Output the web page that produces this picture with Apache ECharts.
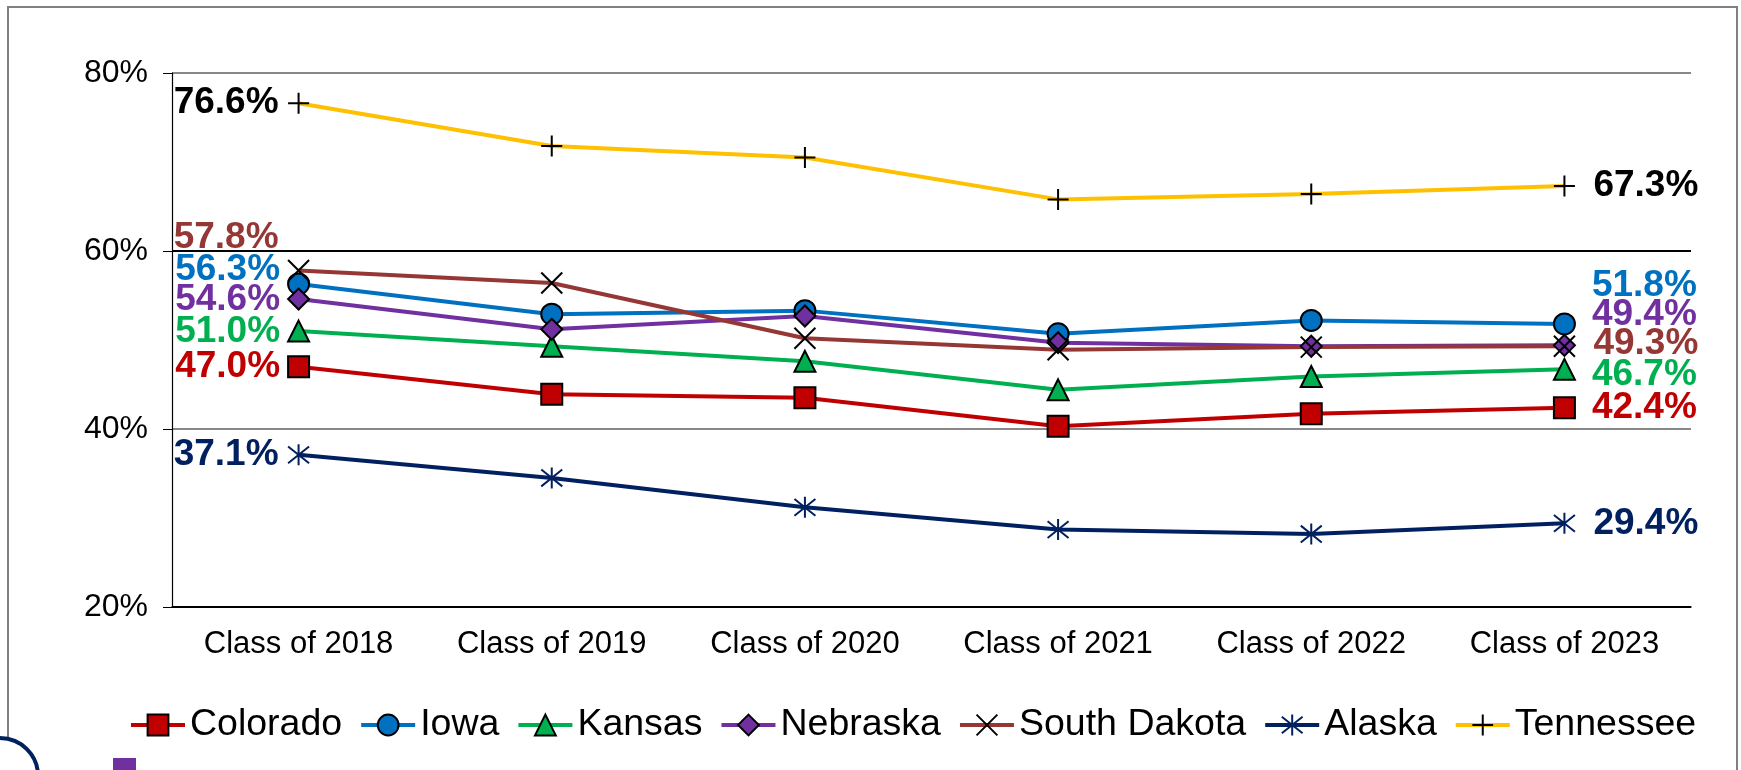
<!DOCTYPE html>
<html>
<head>
<meta charset="utf-8">
<script src="https://cdn.jsdelivr.net/npm/echarts@6/dist/echarts.min.js"></script>
<style>
  html, body { margin: 0; padding: 0; background: #fff; }
  #chart { width: 1741px; height: 770px; }
</style>
</head>
<body>
<div id="chart"></div>
<script>
var categories = ['Class of 2018', 'Class of 2019', 'Class of 2020', 'Class of 2021', 'Class of 2022', 'Class of 2023'];
var colorado = [47.0, 43.9, 43.5, 40.3, 41.7, 42.4];
var iowa = [56.3, 52.9, 53.3, 50.7, 52.2, 51.8];
var kansas = [51.0, 49.3, 47.6, 44.4, 45.9, 46.7];
var nebraska = [54.6, 51.2, 52.7, 49.7, 49.3, 49.4];
var southDakota = [57.8, 56.4, 50.2, 48.9, 49.2, 49.3];
var alaska = [37.1, 34.5, 31.2, 28.7, 28.2, 29.4];
var tennessee = [76.6, 71.8, 70.5, 65.8, 66.4, 67.3];

var font = 'Liberation Sans, Arial, sans-serif';
var xPath = 'path://M0,0 L10,10 M10,0 L0,10';
var plusPath = 'path://M5,0 L5,10 M0,5 L10,5';
var starPath = 'path://M5,0 L5,10 M0.8,1 L9.2,9 M0.8,9 L9.2,1';

// first / last point labels, nudged up or down so they don't collide
function withLabels(values, labelColor, firstOffset, lastOffset) {
    var last = values.length - 1;
    return values.map(function (v, i) {
        if (i === 0 || i === last) {
            return {
                value: v,
                label: {
                    show: true,
                    position: i === 0 ? 'left' : 'right',
                    distance: i === 0 ? 7 : 16,
                    offset: [0, i === 0 ? firstOffset : lastOffset],
                    formatter: function (p) { return p.value.toFixed(1) + '%'; },
                    color: labelColor,
                    fontFamily: font,
                    fontWeight: 'bold',
                    fontSize: 37
                }
            };
        }
        return v;
    });
}

function makeSeries(name, values, color, symbol, fill, border, labelColor, firstOffset, lastOffset) {
    return {
        name: name,
        type: 'line',
        data: withLabels(values, labelColor, firstOffset, lastOffset),
        symbol: symbol,
        symbolSize: 21,
        showAllSymbol: true,
        lineStyle: { color: color, width: 4 },
        itemStyle: { color: fill, borderColor: border, borderWidth: 2 },
        emphasis: { disabled: true },
        animation: false
    };
}

var chart = echarts.init(document.getElementById('chart'));

var option = {
    backgroundColor: '#fff',
    textStyle: { fontFamily: font },
    grid: { left: 172, right: 50, top: 73, bottom: 163 },
    legend: {
        top: 701,
        left: 124,
        itemWidth: 54,
        itemHeight: 26,
        itemGap: 17,
        lineStyle: { width: 4 },
        textStyle: { fontSize: 37.5, color: '#000', fontFamily: font },
        data: ['Colorado', 'Iowa', 'Kansas', 'Nebraska', 'South Dakota', 'Alaska', 'Tennessee']
    },
    xAxis: {
        type: 'category',
        data: categories,
        boundaryGap: true,
        axisLine: { lineStyle: { color: '#000', width: 1.5 } },
        axisTick: { length: 9, lineStyle: { color: '#000' } },
        axisLabel: { fontSize: 31, color: '#000', margin: 22, fontFamily: font }
    },
    yAxis: {
        type: 'value',
        min: 20,
        max: 80,
        interval: 20,
        axisLine: { show: true, lineStyle: { color: '#000', width: 1.2 } },
        axisTick: { show: true, length: 9, lineStyle: { color: '#000' } },
        axisLabel: { fontSize: 32, color: '#000', margin: 24, formatter: '{value}%', fontFamily: font },
        splitLine: { lineStyle: { color: ['#000', '#888', '#000', '#888'], width: 2 } }
    },
    series: [
        makeSeries('Colorado', colorado, '#C00000', 'rect', '#C00000', '#000', '#C00000', 0, 0),
        makeSeries('Iowa', iowa, '#0070C0', 'circle', '#0070C0', '#000', '#0070C0', -14, -38),
        makeSeries('Kansas', kansas, '#00B050', 'triangle', '#00B050', '#000', '#00B050', 1, 5),
        makeSeries('Nebraska', nebraska, '#7030A0', 'diamond', '#7030A0', '#000', '#7030A0', 1, -31),
        makeSeries('South Dakota', southDakota, '#953735', xPath, 'none', '#000', '#953735', -33, -2),
        makeSeries('Alaska', alaska, '#002060', starPath, 'none', '#002060', '#002060', 0, 0),
        makeSeries('Tennessee', tennessee, '#FFC000', plusPath, 'none', '#000', '#000', 0, 0)
    ],
    graphic: [
        {
            type: 'rect',
            silent: true,
            z: -1,
            shape: { x: 8, y: 7, width: 1729, height: 800 },
            style: { fill: 'none', stroke: '#808080', lineWidth: 2 }
        },
        {
            type: 'circle',
            silent: true,
            shape: { cx: 0, cy: 776, r: 38 },
            style: { fill: '#fff', stroke: '#002060', lineWidth: 4 }
        },
        {
            type: 'rect',
            silent: true,
            shape: { x: 113, y: 758, width: 23, height: 14 },
            style: { fill: '#7030A0' }
        }
    ]
};

option && chart.setOption(option);
</script>
</body>
</html>
